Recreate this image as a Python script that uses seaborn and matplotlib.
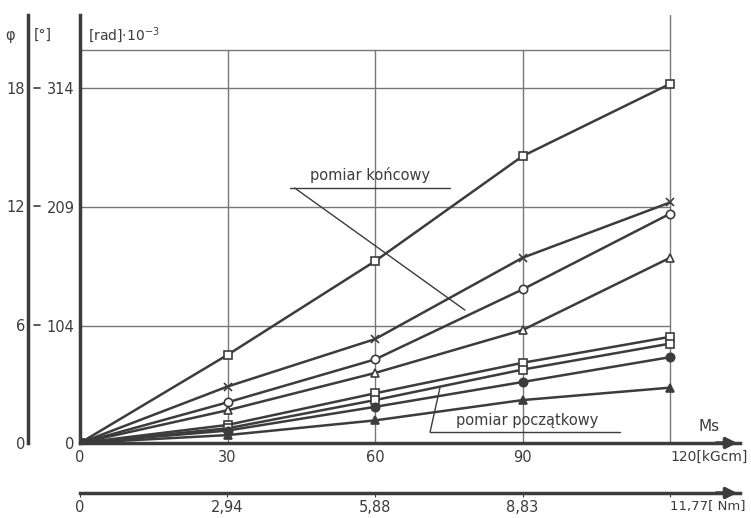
import matplotlib.pyplot as plt
import seaborn as sns
import pandas as pd

# moment skrecajacy [kGcm]
ms = [0, 30, 60, 90, 120]

# kat skrecenia [rad*10^-3] - pomiar koncowy
kon_kw = [0, 78, 161, 254, 318]
kon_x = [0, 50, 92, 164, 213]
kon_kolo = [0, 36, 74, 136, 203]
kon_trojk = [0, 29, 62, 100, 164]

# pomiar poczatkowy
pocz_kw1 = [0, 16, 44, 71, 94]
pocz_kw2 = [0, 13, 38, 65, 88]
pocz_kolo = [0, 11, 32, 54, 76]
pocz_trojk = [0, 7, 20, 38, 49]

nm_ticks = [0, 2.94, 5.88, 8.83, 11.77]
nm_labels = ['0', '2,94', '5,88', '8,83', '11,77[ Nm]']
rad_ticks = [0, 104, 209, 314]
deg_ticks = [0, 6, 12, 18]

serie = [
    ('kon_kw', kon_kw, 's', 'white'),
    ('kon_x', kon_x, 'x', None),
    ('kon_kolo', kon_kolo, 'o', 'white'),
    ('kon_trojk', kon_trojk, '^', 'white'),
    ('pocz_kw1', pocz_kw1, 's', 'white'),
    ('pocz_kw2', pocz_kw2, 's', 'white'),
    ('pocz_kolo', pocz_kolo, 'o', 'full'),
    ('pocz_trojk', pocz_trojk, '^', 'full'),
]

c = '#3c3c3c'
sns.set_style('white')
plt.rcParams['font.family'] = ['DejaVu Sans']

fig = plt.figure(figsize=(7.51, 5.18), dpi=100)
W, H = 751, 518
# 0..120 kGcm -> px 80..670
ax = fig.add_axes([80 / W, (H - 443) / H, (740 - 80) / W, (443 - 15) / H])
ax.set_xlim(0, 120 * 660 / 590)
ax.set_ylim(0, 379)

# siatka
for r in rad_ticks[1:]:
    ax.plot([0, 120], [r, r], color='#777777', lw=1, zorder=1)
ax.plot([0, 120], [348, 348], color='#777777', lw=1, zorder=1)
for m in ms[1:]:
    ax.plot([m, m], [0, 348 if m < 120 else 379], color='#777777', lw=1, zorder=1)

for nazwa, vals, mk, fill in serie:
    df = pd.DataFrame({'ms': ms, 'phi': vals})
    kw = dict(marker=mk, markersize=6, markeredgecolor=c, markeredgewidth=1.2)
    if fill == 'white':
        kw['markerfacecolor'] = 'white'
    elif fill == 'full':
        kw['markerfacecolor'] = c
    sns.lineplot(data=df, x='ms', y='phi', ax=ax, color=c, lw=1.8, **kw)

ax.set_xlabel('')
ax.set_ylabel('')
for s in ['top', 'right']:
    ax.spines[s].set_visible(False)
ax.spines['left'].set_color(c)
ax.spines['left'].set_linewidth(2.5)
ax.spines['bottom'].set_color(c)
ax.spines['bottom'].set_linewidth(2.5)
ax.annotate('', xy=(1.0, 0), xytext=(0.96, 0), xycoords='axes fraction',
            arrowprops=dict(arrowstyle='-|>', color=c, lw=2.5, mutation_scale=16))

ax.set_xticks(ms)
ax.set_xticklabels(['0', '30', '60', '90', '120[kGcm]'])
ax.set_yticks(rad_ticks)
ax.set_yticklabels([str(r) for r in rad_ticks])
ax.tick_params(axis='both', length=0, labelsize=10.5, colors=c, pad=5)
ax.tick_params(axis='y', pad=4)
ax.get_xticklabels()[-1].set_horizontalalignment('left')
ax.get_xticklabels()[-1].set_x(116.5)
ax.get_xticklabels()[-1].set_fontsize(10)
ax.text(1.6, 361, '[rad]·10$^{-3}$', fontsize=10, color=c, ha='left', va='center')
ax.text(128, 8, 'Ms', fontsize=11, color=c, ha='center', va='bottom')

# os w stopniach
st = 1000 * 3.14159265 / 180
ax_deg = ax.secondary_yaxis(-52 / 660, functions=(lambda m: m / st, lambda d: d * st))
ax_deg.set_yticks(deg_ticks)
ax_deg.set_yticklabels([str(d) for d in deg_ticks])
ax_deg.spines['left'].set_color(c)
ax_deg.spines['left'].set_linewidth(2.5)
ax_deg.tick_params(axis='y', direction='out', length=0, labelsize=10.5, colors=c, pad=2)
for d in deg_ticks[1:]:
    ax.plot([-9.4, -8.2], [d * st, d * st], color=c, lw=1.2, clip_on=False)
ax.text(-14.2, 361, 'φ', fontsize=10.5, color=c, ha='center', va='center')
ax.text(-9.4, 361, '[°]', fontsize=10, color=c, ha='left', va='center')

# os w Nm
ax_nm = ax.secondary_xaxis(-50 / 428, functions=(lambda k: k * 0.0981, lambda n: n / 0.0981))
ax_nm.set_xticks(nm_ticks)
ax_nm.set_xticklabels(nm_labels)
ax_nm.spines['bottom'].set_color(c)
ax_nm.spines['bottom'].set_linewidth(2.5)
ax_nm.tick_params(axis='x', length=3, labelsize=10.5, colors=c, pad=2)
ax_nm.get_xticklabels()[-1].set_horizontalalignment('left')
ax_nm.get_xticklabels()[-1].set_x(11.77 - 0.2)
ax_nm.get_xticklabels()[-1].set_fontsize(9.5)
ax.annotate('', xy=(1.0, -50 / 428), xytext=(0.96, -50 / 428), xycoords='axes fraction',
            arrowprops=dict(arrowstyle='-|>', color=c, lw=2.5, mutation_scale=16))

# opisy
ax.text(59, 230, 'pomiar końcowy', fontsize=10.5, color=c, ha='center', va='bottom')
ax.plot([42.7, 75.2], [225.7, 225.7], color=c, lw=1)
ax.plot([43.7, 78.3], [225.7, 117.7], color=c, lw=1)
ax.text(91, 13, 'pomiar początkowy', fontsize=10.5, color=c, ha='center', va='bottom')
ax.plot([71.2, 109.8], [9.7, 9.7], color=c, lw=1)
ax.plot([71.2, 73.2], [9.7, 48.7], color=c, lw=1)

fig.savefig('out.png', dpi=100, facecolor='white')
